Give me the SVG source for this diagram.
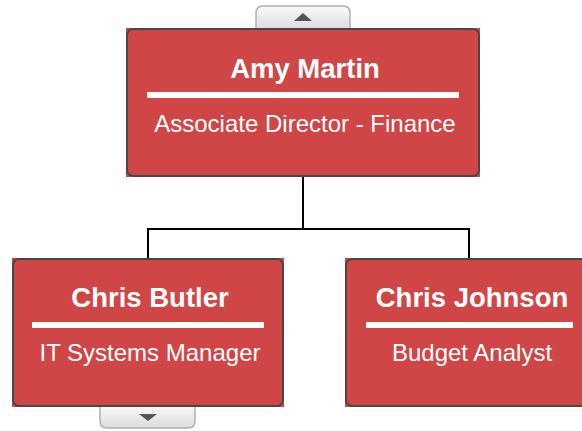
<svg xmlns="http://www.w3.org/2000/svg" width="582" height="431" viewBox="0 0 582 431">
<defs>
<linearGradient id="tabg" x1="0" y1="0" x2="0" y2="1">
<stop offset="0" stop-color="#fafafa"/>
<stop offset="1" stop-color="#dcdcdc"/>
</linearGradient>
<style>
.bg{fill:#d04646}
.bd{fill:none;stroke:#474747;stroke-width:2}
.tab{fill:url(#tabg);stroke:#b0b0b0;stroke-width:1.5}
.tri{fill:#555555}
.t{font-family:"Liberation Sans",Arial,sans-serif;font-weight:bold;font-size:27.5px;fill:#ffffff;text-anchor:middle}
.s{font-family:"Liberation Sans",Arial,sans-serif;font-size:24px;fill:#ffffff;text-anchor:middle}
.rule{fill:#ffffff}
.c{fill:none;stroke:#000000;stroke-width:2}
</style>
</defs>
<g id="connectors">
<path class="c" d="M303 177 V229 M148 229 H470 M148 228 V258 M469 228 V259"/>
</g>
<g id="node-amy">
<path class="tab" d="M256 30 V13 Q256 6 263 6 H343 Q350 6 350 13 V30 Z"/>
<polygon class="tri" points="294,21 312,21 303,13"/>
<rect class="bg" x="126" y="28" width="354" height="149"/>
<rect class="bd" x="127" y="29" width="352" height="147" rx="6"/>
<text class="t" x="305" y="78">Amy Martin</text>
<rect class="rule" x="147" y="92" width="312" height="6"/>
<text class="s" x="305" y="132">Associate Director - Finance</text>
</g>
<g id="node-chris-butler">
<path class="tab" d="M100 405 V421 Q100 428 107 428 H188 Q195 428 195 421 V405 Z"/>
<polygon class="tri" points="139,414 157,414 148,421"/>
<rect class="bg" x="12" y="258" width="272" height="149"/>
<rect class="bd" x="13" y="259" width="270" height="147" rx="6"/>
<text class="t" x="150" y="307">Chris Butler</text>
<rect class="rule" x="32" y="322" width="232" height="6"/>
<text class="s" x="150" y="361">IT Systems Manager</text>
</g>
<g id="node-chris-johnson">
<rect class="bg" x="345" y="258" width="249" height="149"/>
<rect class="bd" x="346" y="259" width="247" height="147" rx="6"/>
<text class="t" x="472" y="307">Chris Johnson</text>
<rect class="rule" x="366" y="322" width="207" height="6"/>
<text class="s" x="472" y="361">Budget Analyst</text>
</g>
</svg>
